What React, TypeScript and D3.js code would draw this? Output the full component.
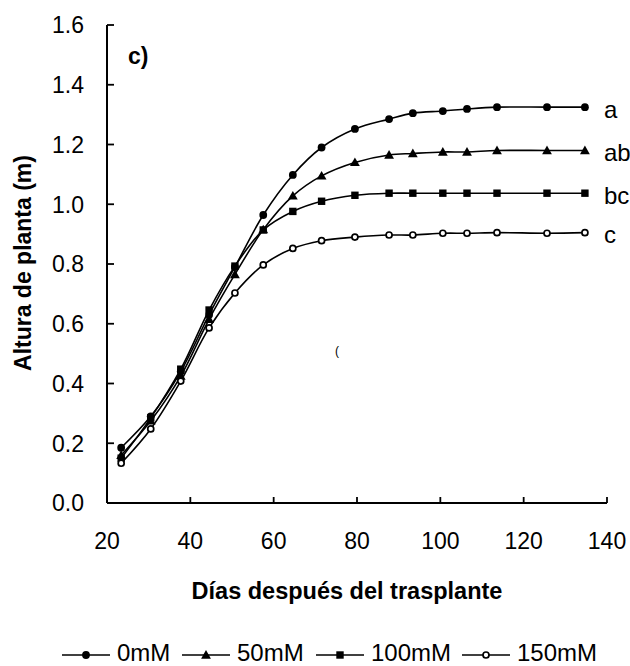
import React from "react";
import * as d3 from "d3";

// Days after transplant at which plant height was measured
const days = [23.4, 30.5, 37.7, 44.5, 50.7, 57.5, 64.6, 71.5, 79.5, 87.7, 93.4, 100.6, 106.4, 113.6, 125.6, 134.7];

// Plant height (m) per NaCl treatment
const h0mM = [0.185, 0.29, 0.44, 0.63, 0.79, 0.964, 1.098, 1.19, 1.252, 1.285, 1.305, 1.312, 1.319, 1.325, 1.325, 1.325];
const h50mM = [0.16, 0.275, 0.425, 0.615, 0.765, 0.915, 1.028, 1.095, 1.14, 1.165, 1.17, 1.175, 1.175, 1.18, 1.18, 1.18];
const h100mM = [0.15, 0.285, 0.448, 0.646, 0.793, 0.914, 0.976, 1.01, 1.03, 1.037, 1.037, 1.037, 1.037, 1.037, 1.037, 1.037];
const h150mM = [0.133, 0.248, 0.408, 0.586, 0.703, 0.797, 0.852, 0.878, 0.89, 0.897, 0.897, 0.903, 0.903, 0.905, 0.903, 0.905];

const seriesNames = ["0mM", "50mM", "100mM", "150mM"];
const seriesValues = [h0mM, h50mM, h100mM, h150mM];
const seriesMarkers = ["circle", "triangle", "square", "open"];
const groupLetters = ["a", "ab", "bc", "c"];

const xTicks = [20, 40, 60, 80, 100, 120, 140];
const yTicks = [0, 0.2, 0.4, 0.6, 0.8, 1.0, 1.2, 1.4, 1.6];

const W = 630;
const H = 666;
const FONT = "'Liberation Sans', Arial, sans-serif";

const x = d3.scaleLinear().domain([20, 140]).range([107, 607]);
const y = d3.scaleLinear().domain([0, 1.6]).range([503, 25]);

function Marker({ kind, cx, cy, s = 1 }: { kind: string; cx: number; cy: number; s?: number }) {
  if (kind === "circle") return <circle cx={cx} cy={cy} r={3.9 * s} fill="#000" />;
  if (kind === "square")
    return <rect x={cx - 3.7 * s} y={cy - 3.7 * s} width={7.4 * s} height={7.4 * s} fill="#000" />;
  if (kind === "triangle") {
    const a = 4.9 * s;
    return <path d={`M${cx},${cy - a} L${cx + a},${cy + a * 0.75} L${cx - a},${cy + a * 0.75}Z`} fill="#000" />;
  }
  return <circle cx={cx} cy={cy} r={3 * s} fill="#fff" stroke="#000" strokeWidth={1.7} />;
}

export default function App() {
  const line = d3
    .line<number>()
    .x((_, i) => x(days[i]))
    .y((v) => y(v))
    .curve(d3.curveCatmullRom.alpha(0.5));

  // legend entries: start of each sample line
  const legendX = [62, 182, 316, 462];
  const legendY = 655;

  return (
    <svg
      width={W}
      height={H}
      style={{ position: "absolute", left: 0, top: 0, background: "#fff" }}
      fontFamily={FONT}
    >
      <rect width={W} height={H} fill="#fff" />

      {/* axes */}
      <line x1={x(20)} x2={x(20)} y1={y(1.6)} y2={y(0)} stroke="#000" strokeWidth={2} />
      <line x1={x(20)} x2={x(140)} y1={y(0)} y2={y(0)} stroke="#000" strokeWidth={2} />
      {yTicks.map((t) => (
        <g key={"y" + t}>
          <line x1={x(20)} x2={x(20) + 7} y1={y(t)} y2={y(t)} stroke="#000" strokeWidth={1.8} />
          <text x={84} y={y(t)} dy="0.36em" textAnchor="end" fontSize={23}>
            {t.toFixed(1)}
          </text>
        </g>
      ))}
      {xTicks.map((t) => (
        <g key={"x" + t}>
          <line x1={x(t)} x2={x(t)} y1={y(0)} y2={y(0) - 6} stroke="#000" strokeWidth={1.8} />
          <text x={x(t)} y={541} dy="0.36em" textAnchor="middle" fontSize={23}>
            {t}
          </text>
        </g>
      ))}

      {/* axis titles */}
      <text
        transform={`translate(31,263) rotate(-90)`}
        textAnchor="middle"
        fontSize={23}
        fontWeight="bold"
      >
        Altura de planta (m)
      </text>
      <text x={347} y={599} textAnchor="middle" fontSize={23.5} fontWeight="bold">
        Días después del trasplante
      </text>

      <text x={128} y={64} fontSize={23} fontWeight="bold">
        c)
      </text>
      <text x={335} y={355} fontSize={12}>
        (
      </text>

      {/* series */}
      {seriesValues.map((vals, si) => (
        <g key={seriesNames[si]}>
          <path d={line(vals) || ""} fill="none" stroke="#000" strokeWidth={1.6} />
          {vals.map((v, i) => (
            <Marker key={i} kind={seriesMarkers[si]} cx={x(days[i])} cy={y(v)} />
          ))}
          <text x={604} y={y(vals[vals.length - 1]) + 2} dy="0.36em" fontSize={24}>
            {groupLetters[si]}
          </text>
        </g>
      ))}

      {/* legend */}
      {seriesNames.map((name, i) => (
        <g key={"lg" + name}>
          <line x1={legendX[i]} x2={legendX[i] + 48} y1={legendY} y2={legendY} stroke="#000" strokeWidth={1.6} />
          <Marker kind={seriesMarkers[i]} cx={legendX[i] + 24} cy={legendY} s={1} />
          <text x={legendX[i] + 55} y={661} fontSize={24}>
            {name}
          </text>
        </g>
      ))}
    </svg>
  );
}
